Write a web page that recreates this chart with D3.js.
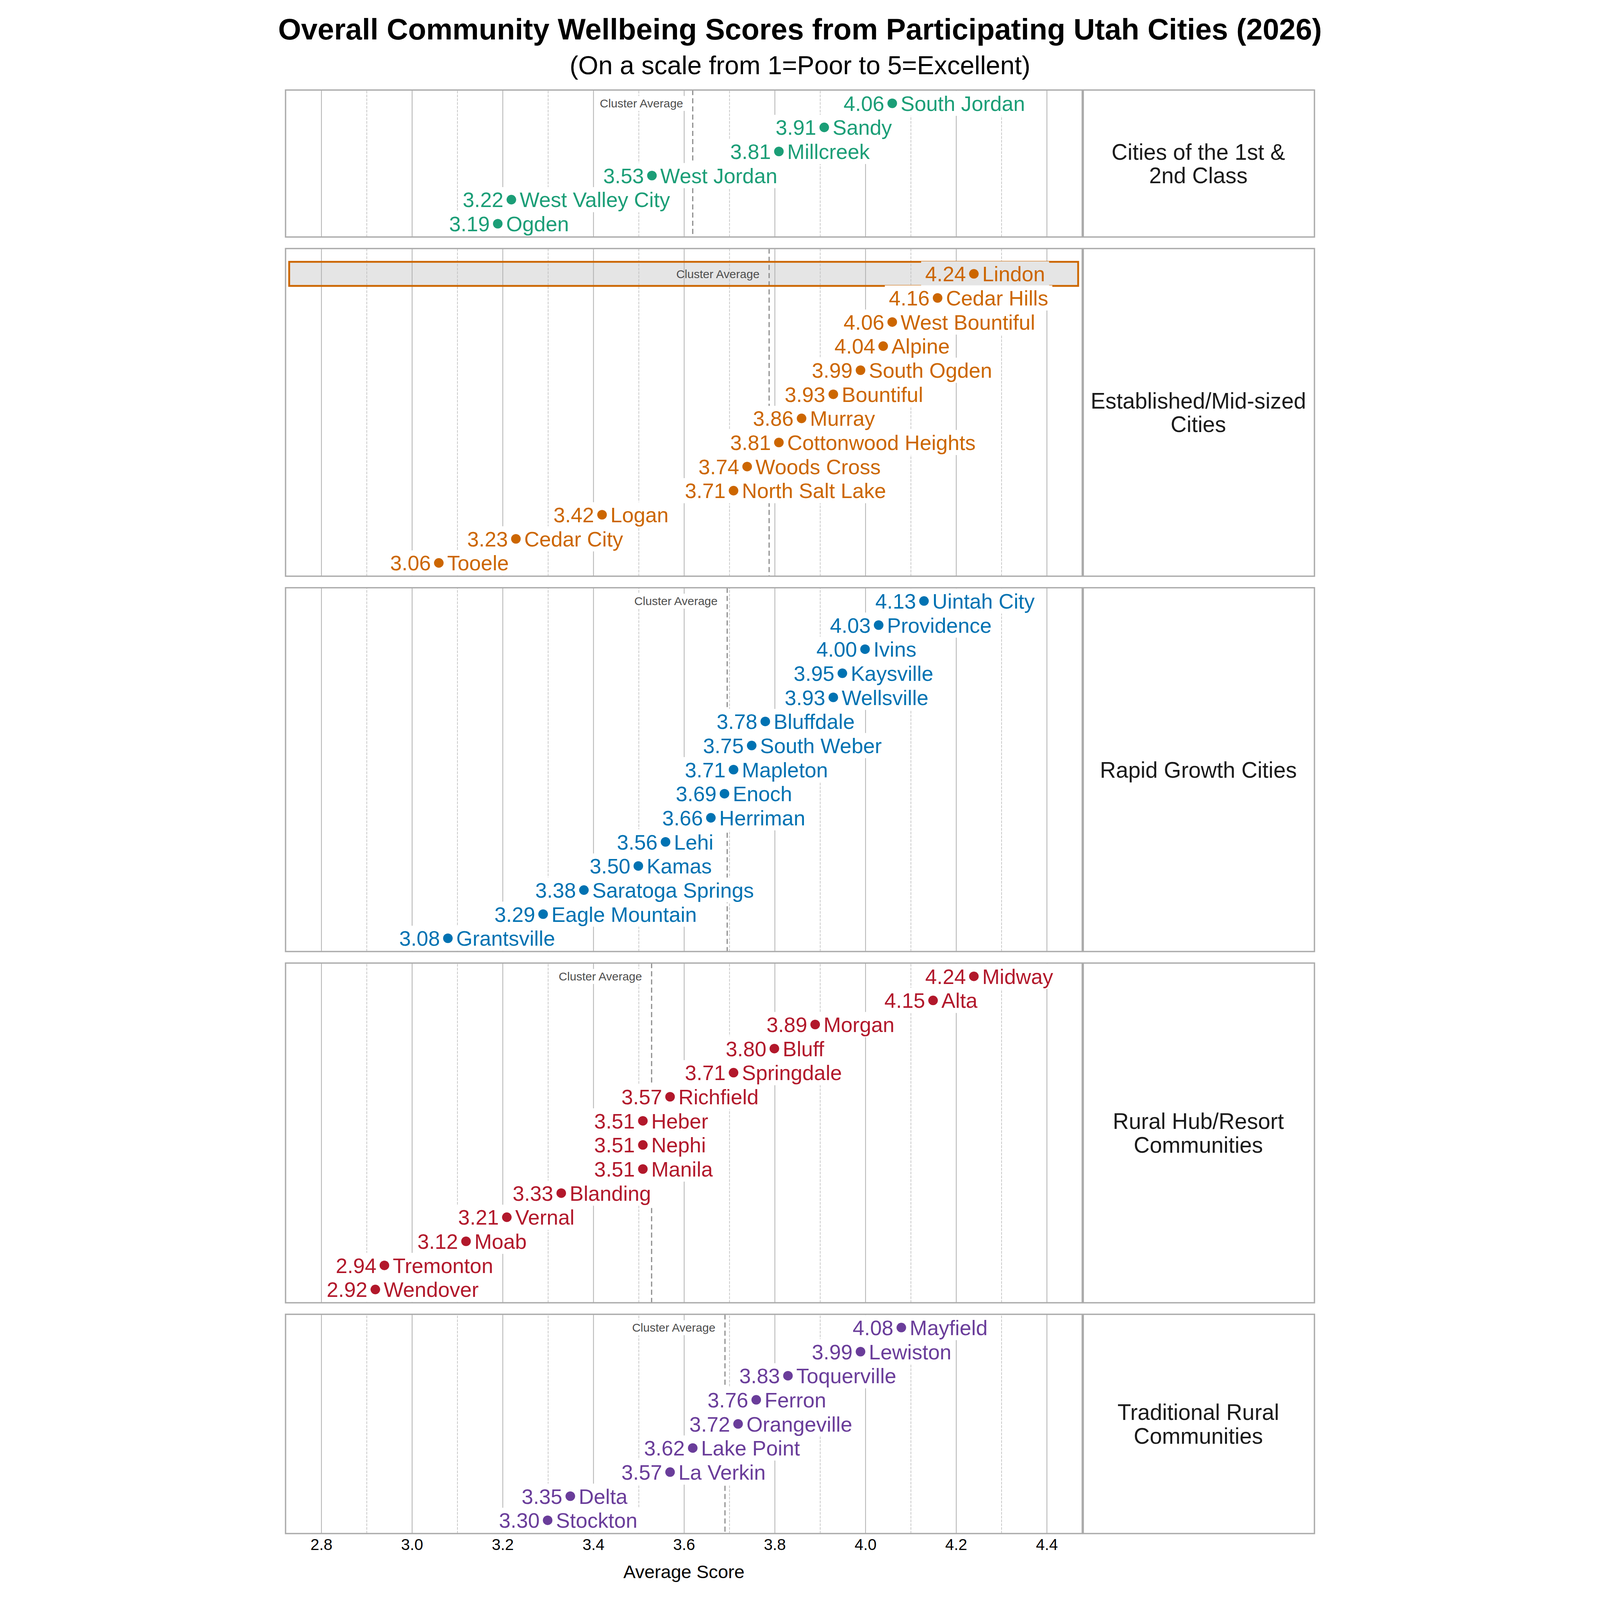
<!DOCTYPE html>
<html>
<head>
<meta charset="utf-8">
<script src="https://cdn.jsdelivr.net/npm/d3@7"></script>
<style>
  html, body { margin: 0; padding: 0; background: #fff; overflow: hidden; }
  svg { display: block; font-family: "Liberation Sans", Arial, sans-serif; }
</style>
</head>
<body>
<div id="chart"></div>
<script>
// cluster data, top to bottom
const clusterStrips = [
  ["Cities of the 1st &", "2nd Class"],
  ["Established/Mid-sized", "Cities"],
  ["Rapid Growth Cities"],
  ["Rural Hub/Resort", "Communities"],
  ["Traditional Rural", "Communities"]
];
const clusterColors = ["#1b9e77", "#cc6600", "#0072b2", "#b2182b", "#6a3d9a"];

const cities1 = ["South Jordan", "Sandy", "Millcreek", "West Jordan", "West Valley City", "Ogden"];
const scores1 = [4.06, 3.91, 3.81, 3.53, 3.22, 3.19];

const cities2 = ["Lindon", "Cedar Hills", "West Bountiful", "Alpine", "South Ogden", "Bountiful", "Murray",
  "Cottonwood Heights", "Woods Cross", "North Salt Lake", "Logan", "Cedar City", "Tooele"];
const scores2 = [4.24, 4.16, 4.06, 4.04, 3.99, 3.93, 3.86, 3.81, 3.74, 3.71, 3.42, 3.23, 3.06];

const cities3 = ["Uintah City", "Providence", "Ivins", "Kaysville", "Wellsville", "Bluffdale", "South Weber",
  "Mapleton", "Enoch", "Herriman", "Lehi", "Kamas", "Saratoga Springs", "Eagle Mountain", "Grantsville"];
const scores3 = [4.13, 4.03, 4.00, 3.95, 3.93, 3.78, 3.75, 3.71, 3.69, 3.66, 3.56, 3.50, 3.38, 3.29, 3.08];

const cities4 = ["Midway", "Alta", "Morgan", "Bluff", "Springdale", "Richfield", "Heber", "Nephi", "Manila",
  "Blanding", "Vernal", "Moab", "Tremonton", "Wendover"];
const scores4 = [4.24, 4.15, 3.89, 3.80, 3.71, 3.57, 3.51, 3.51, 3.51, 3.33, 3.21, 3.12, 2.94, 2.92];

const cities5 = ["Mayfield", "Lewiston", "Toquerville", "Ferron", "Orangeville", "Lake Point", "La Verkin", "Delta", "Stockton"];
const scores5 = [4.08, 3.99, 3.83, 3.76, 3.72, 3.62, 3.57, 3.35, 3.30];

const clusterCities = [cities1, cities2, cities3, cities4, cities5];
const clusterScores = [scores1, scores2, scores3, scores4, scores5];

const highlightCity = "Lindon";
const majorTicks = [2.8, 3.0, 3.2, 3.4, 3.6, 3.8, 4.0, 4.2, 4.4];
const minorTicks = [2.9, 3.1, 3.3, 3.5, 3.7, 3.9, 4.1, 4.3];

// layout in 1045 x 1567.5 units, scaled to fit the window
const W = 1045, H = 1567.5;
const plotL = 18.5, plotR = 799, stripR = 1026.5;
const firstTop = 88.2, step = 23.6, pad = 13, gap = 11.3;
const labelSize = 20.5;

const svg = d3.select("#chart").append("svg")
  .attr("width", window.innerWidth)
  .attr("height", window.innerHeight)
  .attr("viewBox", [0, 0, W, H])
  .attr("preserveAspectRatio", "xMidYMid meet");

svg.append("rect").attr("width", W).attr("height", H).attr("fill", "#fff");

const x = d3.scaleLinear().domain([2.722, 4.479]).range([plotL, plotR]);

svg.append("text")
  .attr("x", W / 2).attr("y", 38.8)
  .attr("text-anchor", "middle")
  .attr("font-size", 29).attr("font-weight", "bold")
  .text("Overall Community Wellbeing Scores from Participating Utah Cities (2026)");

svg.append("text")
  .attr("x", W / 2).attr("y", 72.7)
  .attr("text-anchor", "middle")
  .attr("font-size", 25.3)
  .text("(On a scale from 1=Poor to 5=Excellent)");

let panelTop = firstTop;
let lastBottom = 0;

clusterCities.forEach((cities, ci) => {
  const scores = clusterScores[ci];
  const color = clusterColors[ci];
  const n = cities.length;
  const hasHighlight = cities.includes(highlightCity);
  const padTop = pad + (hasHighlight ? step / 2 : 0);
  const h = padTop + (n - 1) * step + pad;
  const avg = d3.mean(scores);

  const y = d3.scalePoint().domain(cities).range([padTop, padTop + (n - 1) * step]);

  const g = svg.append("g").attr("transform", `translate(0,${panelTop})`);

  g.append("rect")
    .attr("x", plotL).attr("y", 0)
    .attr("width", plotR - plotL).attr("height", h)
    .attr("fill", "#fff");

  // highlighted row background
  if (hasHighlight) {
    g.append("rect")
      .attr("x", x(2.73)).attr("y", y(highlightCity) - step / 2)
      .attr("width", x(4.47) - x(2.73)).attr("height", step)
      .attr("fill", "#e5e5e5");
  }

  // grid
  g.append("g")
    .attr("transform", `translate(0,${h})`)
    .call(d3.axisBottom(x).tickValues(minorTicks).tickSize(-h).tickFormat(""))
    .call(a => a.select(".domain").remove())
    .call(a => a.selectAll(".tick line")
      .attr("stroke", "#c0c0c0").attr("stroke-width", 0.65).attr("stroke-dasharray", "2.6,1.1"));

  g.append("g")
    .attr("transform", `translate(0,${h})`)
    .call(d3.axisBottom(x).tickValues(majorTicks).tickSize(-h).tickFormat(""))
    .call(a => a.select(".domain").remove())
    .call(a => a.selectAll(".tick line")
      .attr("stroke", "#b0b0b0").attr("stroke-width", 0.75));

  // cluster average
  g.append("line")
    .attr("x1", x(avg)).attr("x2", x(avg))
    .attr("y1", 0).attr("y2", h)
    .attr("stroke", "#888").attr("stroke-width", 1.1)
    .attr("stroke-dasharray", "5,3");

  if (hasHighlight) {
    g.append("rect")
      .attr("x", x(2.73)).attr("y", y(highlightCity) - step / 2)
      .attr("width", x(4.47) - x(2.73)).attr("height", step)
      .attr("fill", "none").attr("stroke", "#cc6600").attr("stroke-width", 1.8);
  }

  const boxLayer = g.append("g");
  const textLayer = g.append("g");

  const avgText = textLayer.append("text")
    .attr("x", x(avg) - 9.4).attr("y", y(cities[0]))
    .attr("dy", "0.36em")
    .attr("text-anchor", "end")
    .attr("font-size", 11.5)
    .attr("fill", "#4d4d4d")
    .text("Cluster Average");

  if (cities[0] !== highlightCity) {
    const bb = avgText.node().getBBox();
    boxLayer.append("rect")
      .attr("x", bb.x - 2).attr("y", bb.y - 1)
      .attr("width", bb.width + 4).attr("height", bb.height + 2)
      .attr("fill", "#fff");
  }

  cities.forEach((c, i) => {
    const cx = x(scores[i]), cy = y(c);
    const row = textLayer.append("g");
    const vt = row.append("text")
      .attr("x", cx - 7.8).attr("y", cy).attr("dy", "0.36em")
      .attr("text-anchor", "end")
      .attr("font-size", labelSize).attr("fill", color)
      .text(scores[i].toFixed(2));
    const nt = row.append("text")
      .attr("x", cx + 8.2).attr("y", cy).attr("dy", "0.36em")
      .attr("font-size", labelSize).attr("fill", color)
      .text(c);
    row.append("circle")
      .attr("cx", cx).attr("cy", cy).attr("r", 4.7)
      .attr("fill", color);

    const b1 = vt.node().getBBox(), b2 = nt.node().getBBox();
    const left = b1.x - 4, right = b2.x + b2.width + 4;
    boxLayer.append("rect")
      .attr("x", left).attr("y", cy - step / 2 - 0.5)
      .attr("width", right - left).attr("height", step + 1)
      .attr("fill", c === highlightCity ? "#e5e5e5" : "#fff");
  });

  // panel and strip borders
  g.append("rect")
    .attr("x", plotL).attr("y", 0)
    .attr("width", plotR - plotL).attr("height", h)
    .attr("fill", "none").attr("stroke", "#ababab").attr("stroke-width", 1.3);

  g.append("rect")
    .attr("x", plotR + 1).attr("y", 0)
    .attr("width", stripR - plotR - 1).attr("height", h)
    .attr("fill", "#fff").attr("stroke", "#ababab").attr("stroke-width", 1.3);

  const lines = clusterStrips[ci];
  const stripText = g.append("text")
    .attr("text-anchor", "middle")
    .attr("font-size", 21.7)
    .attr("fill", "#1a1a1a");
  lines.forEach((t, k) => {
    stripText.append("tspan")
      .attr("x", (plotR + stripR) / 2)
      .attr("y", h / 2 + (k - (lines.length - 1) / 2) * 23.2)
      .attr("dy", "0.36em")
      .text(t);
  });

  lastBottom = panelTop + h;
  panelTop += h + gap;
});

// x axis under the last panel
svg.append("g")
  .attr("transform", `translate(0,${lastBottom})`)
  .call(d3.axisBottom(x).tickValues(majorTicks).tickSize(0).tickPadding(5.2).tickFormat(d3.format(".1f")))
  .call(a => a.select(".domain").remove())
  .call(a => a.selectAll(".tick text")
    .attr("font-size", 15.5).attr("fill", "#000")
    .attr("font-family", "\"Liberation Sans\", Arial, sans-serif"));

svg.append("text")
  .attr("x", (plotL + plotR) / 2).attr("y", 1546)
  .attr("text-anchor", "middle")
  .attr("font-size", 18)
  .text("Average Score");
</script>
</body>
</html>
